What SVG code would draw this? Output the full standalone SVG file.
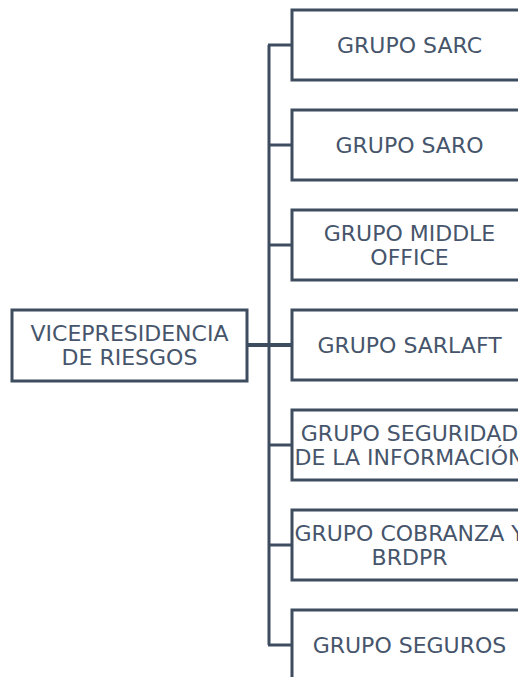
<svg xmlns="http://www.w3.org/2000/svg" width="518" height="677" viewBox="0 0 518 677">
<style>
.box{fill:#ffffff;stroke:#3e4c60;stroke-width:3}
.lbl{font-family:"DejaVu Sans",Verdana,sans-serif;font-size:22px;fill:#46556b;text-anchor:middle}
.con{fill:none;stroke:#3e4c60;stroke-width:3}
</style>
<rect width="518" height="677" fill="#ffffff"/>
<g id="connectors">
<line class="con" x1="269" y1="45" x2="269" y2="645"/>
<line class="con" x1="268" y1="45" x2="292" y2="45"/>
<line class="con" x1="268" y1="145" x2="292" y2="145"/>
<line class="con" x1="268" y1="245" x2="292" y2="245"/>
<line class="con" x1="247" y1="345" x2="292" y2="345" style="stroke-width:4"/>
<line class="con" x1="268" y1="445" x2="292" y2="445"/>
<line class="con" x1="268" y1="545" x2="292" y2="545"/>
<line class="con" x1="268" y1="645" x2="292" y2="645"/>
</g>
<g id="root"><rect class="box" x="12" y="310" width="235" height="71"/><text class="lbl" x="129.5"><tspan x="129.5" y="341">VICEPRESIDENCIA</tspan><tspan x="129.5" y="365">DE RIESGOS</tspan></text></g>
<g id="sarc"><rect class="box" x="292" y="10" width="235" height="70"/><text class="lbl" x="409.5" y="53">GRUPO SARC</text></g>
<g id="saro"><rect class="box" x="292" y="110" width="235" height="70"/><text class="lbl" x="409.5" y="153">GRUPO SARO</text></g>
<g id="middle"><rect class="box" x="292" y="210" width="235" height="70"/><text class="lbl"><tspan x="409.5" y="241">GRUPO MIDDLE</tspan><tspan x="409.5" y="265">OFFICE</tspan></text></g>
<g id="sarlaft"><rect class="box" x="292" y="310" width="235" height="70"/><text class="lbl" x="409.5" y="353">GRUPO SARLAFT</text></g>
<g id="seguridad"><rect class="box" x="292" y="410" width="235" height="70"/><text class="lbl"><tspan x="409.5" y="441">GRUPO SEGURIDAD</tspan><tspan x="409.5" y="465">DE LA INFORMACIÓN</tspan></text></g>
<g id="cobranza"><rect class="box" x="292" y="510" width="235" height="70"/><text class="lbl"><tspan x="409.5" y="541">GRUPO COBRANZA Y</tspan><tspan x="409.5" y="565">BRDPR</tspan></text></g>
<g id="seguros"><rect class="box" x="292" y="610" width="235" height="70"/><text class="lbl" x="409.5" y="653">GRUPO SEGUROS</text></g>
</svg>
